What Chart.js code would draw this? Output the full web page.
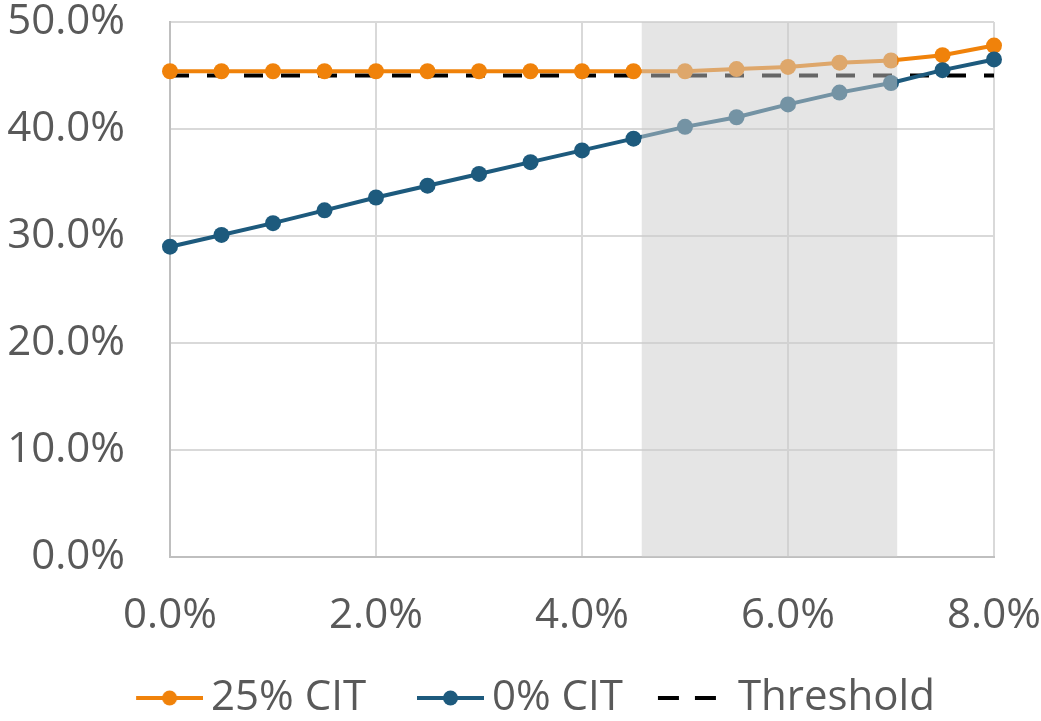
<!DOCTYPE html>
<html>
<head>
<meta charset="utf-8">
<script src="https://cdn.jsdelivr.net/npm/chart.js@4"></script>
<style>
  body { margin: 0; background: #fff; }
  #wrap { width: 1041px; height: 721px; }
</style>
</head>
<body>
<div id="wrap"><canvas id="chart"></canvas></div>
<script>
const xValues = [0, 0.5, 1, 1.5, 2, 2.5, 3, 3.5, 4, 4.5, 5, 5.5, 6, 6.5, 7, 7.5, 8]
const cit25 = [45.4, 45.4, 45.4, 45.4, 45.4, 45.4, 45.4, 45.4, 45.4, 45.4, 45.4, 45.6, 45.8, 46.2, 46.4, 46.9, 47.8]
const cit0 = [29.0, 30.1, 31.2, 32.4, 33.6, 34.7, 35.8, 36.9, 38.0, 39.1, 40.2, 41.1, 42.3, 43.4, 44.3, 45.5, 46.5]
const threshold = [45, 45, 45, 45, 45, 45, 45, 45, 45, 45, 45, 45, 45, 45, 45, 45, 45]
const seriesNames = ['25% CIT', '0% CIT', 'Threshold']
const shadeRange = [4.58, 7.06]

const orange = '#f0820a'
const blue = '#1d5a7d'
const textColor = '#595959'

function toPoints(ys) {
  return xValues.map((x, i) => ({ x: x, y: ys[i] }))
}

// little images used as legend symbols
function legendIcon(kind, color) {
  const c = document.createElement('canvas')
  c.width = 80
  c.height = 20
  const g = c.getContext('2d')
  g.strokeStyle = color
  g.lineWidth = 4
  if (kind === 'dash') {
    g.setLineDash([21, 16])
    g.beginPath()
    g.moveTo(8, 10)
    g.lineTo(68, 10)
    g.stroke()
  } else {
    g.beginPath()
    g.moveTo(13, 10)
    g.lineTo(80, 10)
    g.stroke()
    g.fillStyle = color
    g.beginPath()
    g.arc(46.5, 10, 7.5, 0, Math.PI * 2)
    g.fill()
  }
  return c
}

const icons = [legendIcon('line', orange), legendIcon('line', blue), legendIcon('dash', '#000')]

const shadePlugin = {
  id: 'shade',
  afterDatasetsDraw(chart) {
    const { ctx, chartArea, scales } = chart
    const x1 = scales.x.getPixelForValue(shadeRange[0])
    const x2 = scales.x.getPixelForValue(shadeRange[1])
    ctx.save()
    ctx.fillStyle = 'rgba(204, 204, 204, 0.5)'
    ctx.fillRect(x1, chartArea.top, x2 - x1, chartArea.bottom - chartArea.top)
    ctx.restore()
  },
}

const ctx = document.getElementById('chart').getContext('2d')
const myChart = new Chart(ctx, {
  type: 'line',
  data: {
    datasets: [
      {
        label: seriesNames[0],
        data: toPoints(cit25),
        borderColor: orange,
        backgroundColor: orange,
        borderWidth: 4,
        pointRadius: 8,
        pointBorderWidth: 0,
        order: 1,
        clip: false,
      },
      {
        label: seriesNames[1],
        data: toPoints(cit0),
        borderColor: blue,
        backgroundColor: blue,
        borderWidth: 4,
        pointRadius: 8,
        pointBorderWidth: 0,
        order: 0,
        clip: false,
      },
      {
        label: seriesNames[2],
        data: toPoints(threshold),
        borderColor: '#000',
        borderWidth: 4,
        borderDash: [19, 18],
        pointRadius: 0,
        order: 2,
        clip: false,
      },
    ],
  },
  options: {
    responsive: true,
    maintainAspectRatio: false,
    animation: false,
    // negative right padding nudges the centred legend to the right
    layout: { padding: { left: 0, right: -30, top: 0, bottom: -8 } },
    font: { family: 'Open Sans' },
    scales: {
      x: {
        type: 'linear',
        min: 0,
        max: 8,
        afterFit(scale) {
          scale.paddingLeft = 0
          scale.paddingRight = 47
          scale.height = 80
        },
        grid: { color: '#d9d9d9', lineWidth: 2, drawTicks: false },
        border: { color: '#bfbfbf', width: 2 },
        ticks: {
          stepSize: 2,
          padding: 34,
          color: textColor,
          font: { family: 'Open Sans', size: 42 },
          maxRotation: 0,
          callback: (v) => v.toFixed(1) + '%',
        },
      },
      y: {
        min: 0,
        max: 50,
        afterFit(scale) {
          scale.width = 170
          scale.paddingTop = 22
          scale.paddingBottom = 0
        },
        grid: { color: '#d9d9d9', lineWidth: 2, drawTicks: false },
        border: { color: '#bfbfbf', width: 2 },
        ticks: {
          stepSize: 10,
          padding: 45,
          color: textColor,
          font: { family: 'Open Sans', size: 42 },
          callback: (v) => v.toFixed(1) + '%',
        },
      },
    },
    plugins: {
      legend: {
        position: 'bottom',
        labels: {
          usePointStyle: true,
          pointStyleWidth: 54,
          padding: 40,
          color: textColor,
          font: { family: 'Open Sans', size: 42, lineHeight: 1 },
          generateLabels: () =>
            seriesNames.map((name, i) => ({
              text: i === 0 ? name + ' ' : name,
              pointStyle: icons[i],
              fontColor: textColor,
              lineWidth: 0,
              strokeStyle: 'transparent',
              fillStyle: 'transparent',
              hidden: false,
              datasetIndex: i,
            })),
        },
      },
      tooltip: { enabled: false },
    },
  },
  plugins: [shadePlugin],
})
</script>
</body>
</html>
